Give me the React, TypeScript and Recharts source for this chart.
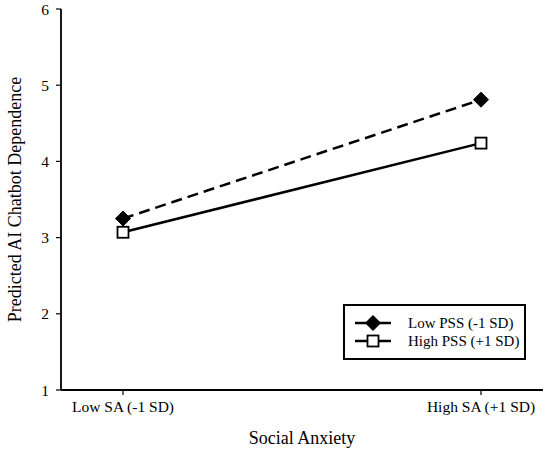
import { LineChart, Line, XAxis, YAxis, Legend, Label } from 'recharts';

const categories = ['Low SA (-1 SD)', 'High SA (+1 SD)'];
const lowPss = [3.25, 4.81];
const highPss = [3.07, 4.24];
const yTicks = [1, 2, 3, 4, 5, 6];
const seriesNames = ['Low PSS (-1 SD)', 'High PSS (+1 SD)'];

const data = categories.map((name, i) => ({ name, low: lowPss[i], high: highPss[i] }));

const FONT = '"Liberation Serif", "Times New Roman", serif';

function Diamond(props: any) {
  const { cx, cy, key } = props;
  if (cx == null || cy == null) return null;
  return (
    <path
      key={key}
      d={`M${cx},${cy - 7.5} L${cx + 7.5},${cy} L${cx},${cy + 7.5} L${cx - 7.5},${cy} Z`}
      fill="#000"
      stroke="#000"
      strokeWidth={1}
    />
  );
}

function Square(props: any) {
  const { cx, cy, key } = props;
  if (cx == null || cy == null) return null;
  return <rect key={key} x={cx - 5.5} y={cy - 5.5} width={11} height={11} fill="#fff" stroke="#000" strokeWidth={1.8} />;
}

function LegendBox() {
  return (
    <div
      style={{
        border: '2px solid #000',
        width: 179,
        height: 52,
        boxSizing: 'content-box',
        background: '#fff',
        fontFamily: FONT,
        fontSize: 15,
        color: '#000',
      }}
    >
      {seriesNames.map((n, i) => (
        <div key={n} style={{ display: 'flex', alignItems: 'center', height: 18, marginTop: i === 0 ? 8 : 0 }}>
          <svg width={60} height={18} style={{ marginLeft: 6 }}>
            <line x1={4} y1={9} x2={40} y2={9} stroke="#000" strokeWidth={2.5} />
            {i === 0 ? <Diamond cx={22} cy={9} /> : <Square cx={22} cy={9} />}
          </svg>
          <span style={{ marginLeft: -3 }}>{n}</span>
        </div>
      ))}
    </div>
  );
}

export default function App() {
  return (
    <div style={{ position: 'absolute', left: 0, top: 0, width: 550, height: 451, background: '#fff' }}>
      <LineChart width={550} height={451} data={data} margin={{ top: 9, right: 7, bottom: 31, left: 0 }}>
        <XAxis
          dataKey="name"
          type="category"
          padding={{ left: 62, right: 62 }}
          axisLine={{ stroke: '#000', strokeWidth: 1.8 }}
          tickLine={{ stroke: '#000', strokeWidth: 1.2 }}
          tickSize={5}
          tickMargin={6}
          height={30}
          tick={{ fill: '#000', fontSize: 15.5, fontFamily: FONT }}
        >
          <Label
            content={({ viewBox }: any) => (
              <text
                x={viewBox.x + viewBox.width / 2}
                y={438}
                textAnchor="middle"
                dominantBaseline="central"
                fontSize={18}
                fontFamily={FONT}
                fill="#000"
              >
                Social Anxiety
              </text>
            )}
          />
        </XAxis>
        <XAxis xAxisId="top" orientation="top" height={0} tick={false} tickLine={false} axisLine={{ stroke: '#000', strokeWidth: 1.8 }} />
        <YAxis
          domain={[1, 6]}
          ticks={yTicks}
          width={61}
          axisLine={{ stroke: '#000', strokeWidth: 1.8 }}
          tickLine={{ stroke: '#000', strokeWidth: 1.2 }}
          tickSize={5}
          tickMargin={7}
          tick={{ fill: '#000', fontSize: 15.5, fontFamily: FONT }}
        >
          <Label
            content={({ viewBox }: any) => {
              const cy = viewBox.y + viewBox.height / 2;
              return (
                <text
                  x={15}
                  y={cy}
                  transform={`rotate(-90, 15, ${cy})`}
                  textAnchor="middle"
                  dominantBaseline="central"
                  fontSize={18}
                  fontFamily={FONT}
                  fill="#000"
                >
                  Predicted AI Chatbot Dependence
                </text>
              );
            }}
          />
        </YAxis>
        <YAxis yAxisId="right" orientation="right" width={0} tick={false} tickLine={false} axisLine={{ stroke: '#000', strokeWidth: 1.8 }} />
        <Legend
          layout="horizontal"
          verticalAlign="middle"
          content={() => <LegendBox />}
          wrapperStyle={{ position: 'absolute', left: 343, top: 304, width: 'auto', height: 'auto' }}
        />
        <Line
          dataKey="low"
          name={seriesNames[0]}
          stroke="#000"
          strokeWidth={2.5}
          strokeDasharray="11 6"
          dot={(p: any) => <Diamond {...p} key={p.key} />}
          isAnimationActive={false}
        />
        <Line
          dataKey="high"
          name={seriesNames[1]}
          stroke="#000"
          strokeWidth={2.5}
          dot={(p: any) => <Square {...p} key={p.key} />}
          isAnimationActive={false}
        />
      </LineChart>
    </div>
  );
}
